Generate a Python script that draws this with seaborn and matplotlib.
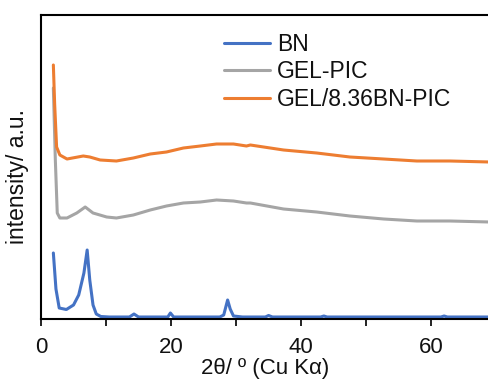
import matplotlib
matplotlib.use("Agg")
import matplotlib.pyplot as plt
import seaborn as sns
import pandas as pd

# ---- data ----
bn_x = [1.9, 2.3, 2.8, 3.9, 5.0, 5.8, 6.6, 7.1, 7.5, 8.0, 8.5, 9.2, 10.5, 13.6, 14.3, 15.0,
        19.5, 19.9, 20.4, 27.5, 28.1, 28.7, 29.1, 29.6, 31.0, 34.5, 35.0, 35.6, 43.0, 43.5,
        44.0, 61.5, 62.0, 62.5, 69.0]
bn_y = [66, 30, 11, 9.5, 14, 24, 46, 69, 39, 14, 5, 2.5, 2, 2, 5, 2,
        2, 6, 2, 2, 4, 19, 10, 3, 2, 2, 3.5, 2, 2, 3,
        2, 2, 3, 2, 2]

gel_x = [1.9, 2.2, 2.5, 2.9, 4.0, 5.5, 6.8, 8.0, 10.1, 11.6, 14.2, 16.8, 19.3, 21.9, 24.5,
         27.0, 29.6, 31.6, 32.2, 37.3, 42.4, 47.5, 52.7, 57.8, 62.9, 69.0]
gel_y = [231, 160, 106, 101, 101, 106, 112, 106, 102, 101, 104, 109, 113, 116, 117,
         119, 118, 116, 116, 110, 107, 103, 100, 98, 98, 97]

gelbn_x = [1.9, 2.1, 2.4, 2.9, 4.0, 6.5, 7.5, 9.1, 11.6, 14.2, 16.8, 19.3, 21.9, 24.5,
           27.0, 29.6, 31.6, 32.2, 37.3, 42.4, 47.5, 52.7, 57.8, 62.9, 69.0]
gelbn_y = [254, 215, 172, 164, 160, 163, 162, 159, 158, 161, 165, 167, 171, 173,
           175, 175, 173, 174, 169, 166, 162, 160, 158, 158, 157]

series_names = ["BN", "GEL-PIC", "GEL/8.36BN-PIC"]
colors = ["#4472C4", "#A5A5A5", "#ED7D31"]
x_ticks = [0, 10, 20, 30, 40, 50, 60]
x_tick_labels = ["0", "", "20", "", "40", "", "60"]

frames = []
for name, xs, ys in zip(series_names, [bn_x, gel_x, gelbn_x], [bn_y, gel_y, gelbn_y]):
    frames.append(pd.DataFrame({"x": xs, "y": ys, "sample": name}))
df = pd.concat(frames, ignore_index=True)

sns.set_style("white")
plt.rcParams["font.family"] = ["Liberation Sans", "DejaVu Sans"]

fig = plt.figure(figsize=(4.89, 3.85), dpi=100)
ax = fig.add_axes([41 / 489, 1 - 319 / 385, 1 - 41 / 489, (319 - 15) / 385])

sns.lineplot(data=df, x="x", y="y", hue="sample", palette=colors,
             hue_order=series_names, sort=False, estimator=None,
             linewidth=2.2, ax=ax)

ax.set_xlim(0, 68.9)
ax.set_ylim(0, 304)
ax.set_xticks(x_ticks)
ax.set_xticklabels(x_tick_labels)
ax.set_yticks([])
ax.tick_params(axis="x", direction="out", length=5, width=1.3, labelsize=16,
               bottom=True, pad=8, colors="#111111")
for side in ["left", "bottom", "top"]:
    ax.spines[side].set_visible(True)
    ax.spines[side].set_color("black")
    ax.spines[side].set_linewidth(1.5)
ax.spines["right"].set_visible(False)

ax.set_xlabel("2θ/ º (Cu Kα)", fontsize=16, labelpad=0, color="#111111")
ax.set_ylabel("intensity/ a.u.", fontsize=16.5, color="#111111")
ax.yaxis.set_label_coords(-0.026, 0.47)

leg = ax.legend(loc="upper left", bbox_to_anchor=(0.409, 0.942), frameon=False,
                fontsize=16.5, handlelength=2.0, handletextpad=0.3,
                labelspacing=0.2, borderpad=0, borderaxespad=0)
for line in leg.get_lines():
    line.set_linewidth(2.2)
for t in leg.get_texts():
    t.set_color("#111111")

fig.savefig("out.png", dpi=100)
